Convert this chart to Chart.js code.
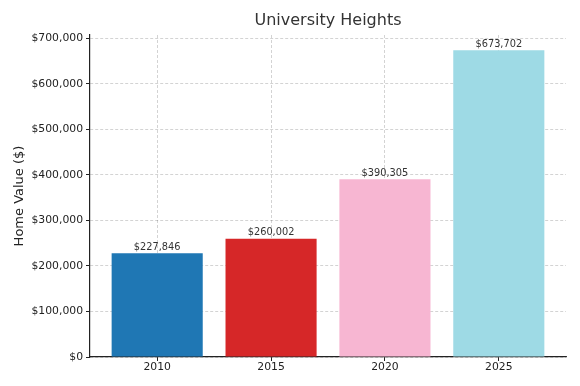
<!DOCTYPE html>
<html>
<head>
<meta charset="utf-8">
<script src="https://cdn.jsdelivr.net/npm/chart.js@4.4.1/dist/chart.umd.min.js"></script>
<style>
  html, body { margin: 0; padding: 0; background: #fff; }
  #wrap { width: 580px; height: 386px; position: relative; }
</style>
</head>
<body>
<div id="wrap"><canvas id="homeChart"></canvas></div>
<script>
const years = ['2010', '2015', '2020', '2025'];
const homeValues = [227846, 260002, 390305, 673702];
const yTicks = [0, 100000, 200000, 300000, 400000, 500000, 600000, 700000];
const barColors = ['#1f77b4', '#d62728', '#f7b6d2', '#9edae5'];
const chartTitle = 'University Heights';

const money = v => '$' + Math.round(v).toLocaleString('en-US');

// value labels above the bars + title centred over the plot area
const valueLabels = {
    id: 'valueLabels',
    afterDatasetsDraw(chart) {
        const ctx = chart.ctx;
        const meta = chart.getDatasetMeta(0);
        ctx.save();
        ctx.font = '9.8px "DejaVu Sans"';
        ctx.fillStyle = '#333';
        ctx.textAlign = 'center';
        ctx.textBaseline = 'bottom';
        meta.data.forEach((bar, i) => {
            ctx.fillText(money(homeValues[i]), bar.x, bar.y - 1);
        });
        ctx.restore();
    },
    afterDraw(chart) {
        const ctx = chart.ctx;
        const area = chart.chartArea;
        ctx.save();
        ctx.font = '16px "DejaVu Sans"';
        ctx.fillStyle = '#333';
        ctx.textAlign = 'center';
        ctx.textBaseline = 'middle';
        ctx.fillText(chartTitle, (area.left + area.right) / 2, 21);
        ctx.restore();
    }
};

const gridStyle = {
    color: 'rgba(0,0,0,0.22)',
    lineWidth: 0.8,
    tickColor: '#222',
    tickLength: 4,
    tickWidth: 1,
    tickBorderDash: [],
    offset: false
};

const ctx = document.getElementById('homeChart').getContext('2d');
const homeChart = new Chart(ctx, {
    type: 'bar',
    data: {
        datasets: [{
            label: 'Home Value',
            data: homeValues.map((v, i) => ({ x: i, y: v })),
            backgroundColor: barColors,
            borderWidth: 0,
            barPercentage: 0.8,
            categoryPercentage: 1
        }]
    },
    options: {
        responsive: true,
        maintainAspectRatio: false,
        animation: false,
        layout: { padding: { left: 0, right: 14, top: 35, bottom: 0 } },
        plugins: {
            legend: { display: false },
            tooltip: { enabled: false },
            title: { display: false }
        },
        scales: {
            x: {
                type: 'linear',
                min: -0.59,
                max: 3.59,
                offset: false,
                z: 1,
                afterFit: scale => { scale.height = 29; },
                afterBuildTicks: scale => {
                    scale.ticks = years.map((y, i) => ({ value: i }));
                },
                ticks: {
                    callback: value => years[value],
                    color: '#222',
                    font: { size: 10.8, family: 'DejaVu Sans' },
                    padding: 0,
                    maxRotation: 0
                },
                grid: gridStyle,
                border: { display: true, color: '#222', width: 1.2, dash: [3, 2] }
            },
            y: {
                min: 0,
                max: 707387,
                z: 1,
                afterFit: scale => { scale.width = 90; },
                afterBuildTicks: scale => {
                    scale.ticks = yTicks.map(v => ({ value: v }));
                },
                title: {
                    display: true,
                    text: 'Home Value ($)',
                    color: '#222',
                    font: { size: 13, family: 'DejaVu Sans' },
                    padding: { top: 12, bottom: 0 }
                },
                ticks: {
                    callback: value => money(value),
                    color: '#222',
                    font: { size: 10.8, family: 'DejaVu Sans' },
                    padding: 3
                },
                grid: gridStyle,
                border: { display: true, color: '#222', width: 1.2, dash: [3, 2] }
            }
        }
    },
    plugins: [valueLabels]
});
</script>
</body>
</html>
